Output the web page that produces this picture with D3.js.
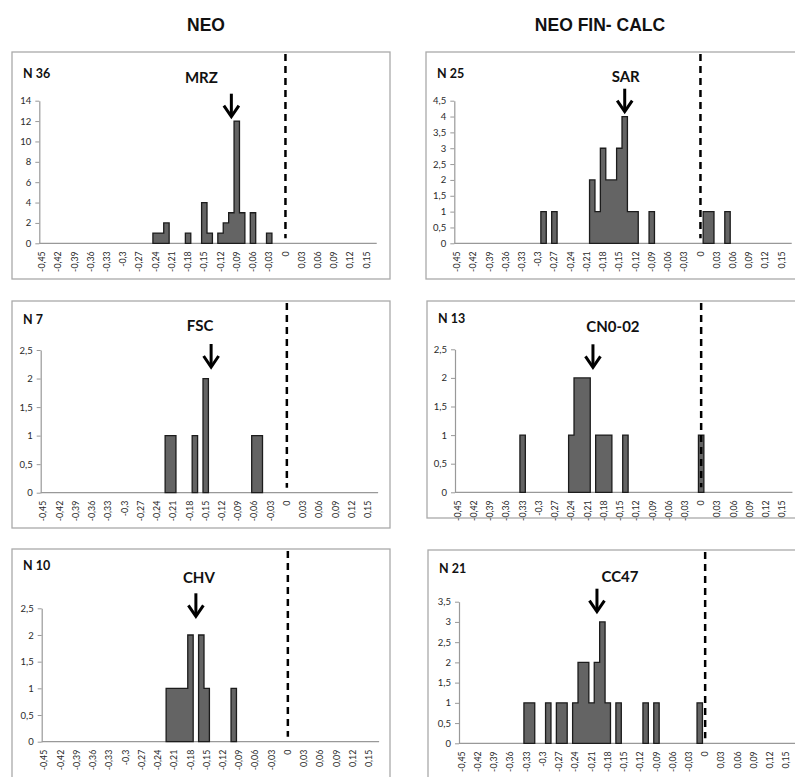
<!DOCTYPE html>
<html>
<head>
<meta charset="utf-8">
<script src="https://cdn.jsdelivr.net/npm/d3@7"></script>
<style>
  html, body { margin: 0; padding: 0; background: #fff; }
  svg { display: block; }
</style>
</head>
<body>
<svg id="chart" width="795" height="777"></svg>
<script>
// ---------- data ----------
const columnTitles = ["NEO", "NEO FIN- CALC"];
const sampleNames  = ["MRZ", "SAR", "FSC", "CN0-02", "CHV", "CC47"];
const sampleSizes  = [36, 25, 7, 13, 10, 21];
const markerValues = [-0.10, -0.14, -0.14, -0.20, -0.17, -0.20];
const yMaxima      = [14, 4.5, 2.5, 2.5, 2.5, 3.5];
const yTickSteps   = [2, 0.5, 0.5, 0.5, 0.5, 0.5];

const mrzBins   = [-0.24, -0.23, -0.22, -0.18, -0.15, -0.14, -0.12, -0.11, -0.10, -0.09, -0.08, -0.06, -0.03];
const mrzCounts = [1, 1, 2, 1, 4, 1, 1, 2, 3, 12, 3, 3, 1];

const sarBins   = [-0.29, -0.27, -0.20, -0.19, -0.18, -0.17, -0.16, -0.15, -0.14, -0.13, -0.12, -0.09, 0.01, 0.02, 0.05];
const sarCounts = [1, 1, 2, 1, 3, 2, 2, 3, 4, 1, 1, 1, 1, 1, 1];

const fscBins   = [-0.22, -0.21, -0.17, -0.15, -0.06, -0.05];
const fscCounts = [1, 1, 1, 2, 1, 1];

const cn0Bins   = [-0.33, -0.24, -0.23, -0.22, -0.21, -0.19, -0.18, -0.17, -0.14, 0.00];
const cn0Counts = [1, 1, 2, 2, 2, 1, 1, 1, 1, 1];

const chvBins   = [-0.22, -0.21, -0.20, -0.19, -0.18, -0.16, -0.15, -0.10];
const chvCounts = [1, 1, 1, 1, 2, 2, 1, 1];

const cc47Bins   = [-0.33, -0.32, -0.29, -0.27, -0.26, -0.24, -0.23, -0.22, -0.21, -0.20, -0.19, -0.18, -0.16, -0.11, -0.09, -0.01];
const cc47Counts = [1, 1, 1, 1, 1, 1, 2, 2, 1, 2, 3, 1, 1, 1, 1, 1];

const binSets   = [mrzBins, sarBins, fscBins, cn0Bins, chvBins, cc47Bins];
const countSets = [mrzCounts, sarCounts, fscCounts, cn0Counts, chvCounts, cc47Counts];

const xTickLabels = ["-0,45", "-0,42", "-0,39", "-0,36", "-0,33", "-0,3", "-0,27", "-0,24", "-0,21",
                     "-0,18", "-0,15", "-0,12", "-0,09", "-0,06", "-0,03", "0", "0,03", "0,06",
                     "0,09", "0,12", "0,15"];
const binFirst = -45, binLast = 16;   // category range in hundredths

// ---------- layout ----------
const catW = 5.41;
const frames = [
  { box: [12, 52, 378, 227],  left: 39.3, top: 100.7, bottom: 243.3, nY: 78,  labelY: 83,  labelDx: -30, tipDy: 16 },
  { box: [426, 52, 400, 227], left: 454.3, top: 100.7, bottom: 243.3, nY: 78, labelY: 82,  labelDx: 1,   tipDy: 11 },
  { box: [12, 301, 378, 227], left: 40.7, top: 350,   bottom: 492.7, nY: 324, labelY: 331, labelDx: -11, tipDy: 17 },
  { box: [427, 301, 400, 217], left: 455, top: 349.3, bottom: 492.3, nY: 323, labelY: 332, labelDx: 20,  tipDy: 18 },
  { box: [12, 549, 378, 260], left: 41.7, top: 608.3, bottom: 741.7, nY: 570, labelY: 583, labelDx: 3,   tipDy: 8 },
  { box: [428, 550, 400, 260], left: 459, top: 601.7, bottom: 743.3, nY: 573, labelY: 582, labelDx: 23,  tipDy: 10 }
];
const titleX = [206, 600];

const locale = d3.formatLocale({ decimal: ",", thousands: ".", grouping: [3], currency: ["", "€"], minus: "-" });
const fmt = locale.format("~g");

const svg = d3.select("#chart");

// column headings
svg.selectAll("text.col-title")
  .data(columnTitles)
  .join("text")
  .attr("class", "col-title")
  .attr("x", (d, i) => titleX[i])
  .attr("y", 31)
  .attr("text-anchor", "middle")
  .style("font-family", "'Liberation Sans', Arial, sans-serif")
  .style("font-weight", "bold")
  .style("font-size", "17.5px")
  .attr("fill", "#111")
  .text(d => d);

frames.forEach((f, i) => {
  const g = svg.append("g");
  const nCats = binLast - binFirst + 1;
  const x = d3.scaleLinear()
    .domain([(binFirst - 0.5) / 100, (binLast + 0.5) / 100])
    .range([f.left, f.left + nCats * catW]);
  const y = d3.scaleLinear().domain([0, yMaxima[i]]).range([f.bottom, f.top]);

  // panel frame
  g.append("rect")
    .attr("x", f.box[0]).attr("y", f.box[1])
    .attr("width", f.box[2]).attr("height", f.box[3])
    .attr("fill", "#fff").attr("stroke", "#aaaaaa").attr("stroke-width", 1.3);

  // y axis
  const yTicks = d3.range(0, yMaxima[i] + 1e-9, yTickSteps[i]);
  const yAxis = d3.axisLeft(y).tickValues(yTicks).tickFormat(fmt).tickSizeInner(4).tickSizeOuter(0).tickPadding(4);
  const ya = g.append("g").attr("transform", `translate(${f.left},0)`).call(yAxis);
  ya.select(".domain").attr("stroke", "#999").attr("stroke-width", 1.2);
  ya.selectAll(".tick line").attr("stroke", "#999");
  ya.selectAll(".tick text")
    .style("font-family", "Lato, 'Open Sans', sans-serif")
    .style("font-size", "9.5px")
    .attr("fill", "#2a2a2a");

  // x axis line
  g.append("line")
    .attr("x1", f.left).attr("x2", x.range()[1] + 2)
    .attr("y1", f.bottom).attr("y2", f.bottom)
    .attr("stroke", "#999").attr("stroke-width", 1.2);

  // x tick labels (rotated)
  g.selectAll("text.xlab")
    .data(xTickLabels)
    .join("text")
    .attr("class", "xlab")
    .attr("transform", d => `translate(${x(parseFloat(d.replace(",", ".")))},${f.bottom + 8}) rotate(-90)`)
    .attr("text-anchor", "end")
    .attr("dy", "0.35em")
    .style("font-family", "Lato, 'Open Sans', sans-serif")
    .style("font-size", "8.8px")
    .attr("fill", "#2a2a2a")
    .text(d => d);

  // histogram: one outlined step shape per run of adjacent non-empty bins
  const counts = new Map(binSets[i].map((b, k) => [Math.round(b * 100), countSets[i][k]]));
  const runs = [];
  let cur = null;
  for (let b = binFirst; b <= binLast; b++) {
    const c = counts.get(b) || 0;
    if (c > 0) {
      if (!cur) { cur = []; runs.push(cur); }
      cur.push({ b, c });
    } else cur = null;
  }
  const step = d3.line().curve(d3.curveStepAfter).x(p => x(p[0])).y(p => y(p[1]));
  runs.forEach(run => {
    const pts = [[(run[0].b - 0.5) / 100, 0]];
    run.forEach(r => pts.push([(r.b - 0.5) / 100, r.c]));
    pts.push([(run[run.length - 1].b + 0.5) / 100, 0]);
    g.append("path")
      .attr("d", step(pts) + "Z")
      .attr("fill", "#646464")
      .attr("stroke", "#1c1c1c")
      .attr("stroke-width", 1.3)
      .attr("stroke-linejoin", "miter");
  });

  // dashed reference line at zero
  g.append("line")
    .attr("x1", x(0)).attr("x2", x(0))
    .attr("y1", f.box[1] + 2).attr("y2", f.bottom - 5)
    .attr("stroke", "#000").attr("stroke-width", 2.5)
    .attr("stroke-dasharray", "7,5");

  // sample size
  g.append("text")
    .attr("x", f.box[0] + 11).attr("y", f.nY)
    .style("font-family", "Lato, 'Open Sans', sans-serif")
    .style("font-weight", "bold")
    .style("font-size", "12.5px")
    .attr("fill", "#111")
    .text(`N ${sampleSizes[i]}`);

  // site marker: label and down arrow
  const xa = x(markerValues[i]);
  const tip = f.top + f.tipDy;
  g.append("text")
    .attr("x", xa + f.labelDx).attr("y", f.labelY)
    .attr("text-anchor", "middle")
    .style("font-family", "Lato, 'Open Sans', sans-serif")
    .style("font-weight", "bold")
    .style("font-size", "15px")
    .attr("fill", "#111")
    .text(sampleNames[i]);
  g.append("line")
    .attr("x1", xa).attr("x2", xa)
    .attr("y1", tip - 23).attr("y2", tip - 2)
    .attr("stroke", "#000").attr("stroke-width", 3);
  g.append("path")
    .attr("d", `M${xa - 7.5},${tip - 11}L${xa},${tip}L${xa + 7.5},${tip - 11}`)
    .attr("fill", "none").attr("stroke", "#000").attr("stroke-width", 3)
    .attr("stroke-linejoin", "miter");
});
</script>
</body>
</html>
